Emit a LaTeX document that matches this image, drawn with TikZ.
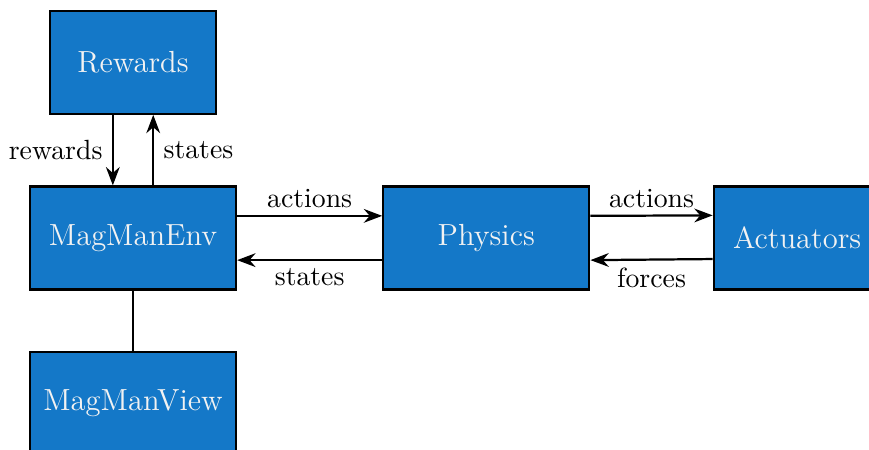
\documentclass[tikz,border=0pt]{standalone}
\usepackage{tikz}
\usetikzlibrary{positioning,arrows.meta}

\definecolor{magblue}{RGB}{20,120,200}
\definecolor{boxtext}{RGB}{242,242,242}

\begin{document}
\begin{tikzpicture}[font=\normalsize, >=Stealth, thick,
  box/.style={draw, fill=magblue, text=boxtext, align=center, inner sep=4pt,
    font=\fontsize{11}{13}\selectfont, minimum width=74.2pt, minimum height=37.1pt},
  smallbox/.style={box, minimum width=60pt},
  lbl/.style={inner sep=2.5pt}]
  \clip (-47.9pt,-76.3pt) rectangle (265pt,85.7pt);
  \node[box] (env) {MagManEnv};
  \node[smallbox, above=25.4pt of env] (rewards) {Rewards};
  \node[box, right=52.2pt of env] (physics) {Physics};
  \node[smallbox, right=44pt of physics] (actuators) {Actuators};
  \node[box, below=21.6pt of env] (view) {MagManView};
  \draw[->] (rewards.249) -- node[left]{rewards} (env.111);
  \draw[->] (env.69) -- node[right]{states} (rewards.291);
  \draw[->] (env.12) -- node[above,lbl]{actions} (physics.168);
  \draw[<-] (env.348) -- node[below,lbl]{states} (physics.192);
  \draw[->] (physics.12) -- node[above,lbl]{actions} (actuators.165.3);
  \draw[<-] (physics.348) -- node[below,lbl]{forces} (actuators.194.7);
  \draw (env) -- (view);
\end{tikzpicture}
\end{document}
